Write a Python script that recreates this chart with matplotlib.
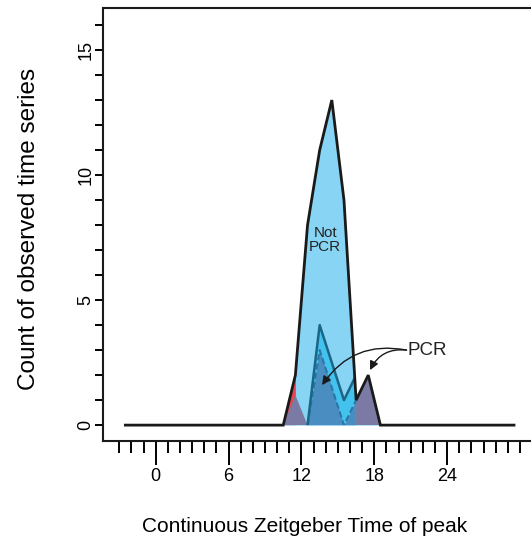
import numpy as np
import matplotlib
matplotlib.use("Agg")
import matplotlib.pyplot as plt

plt.rcParams['font.family'] = ['Liberation Sans', 'DejaVu Sans']

nan = np.nan

# bins of continuous Zeitgeber time (bin centres)
zt = np.arange(-2.5, 30.0, 1.0)

# counts per bin: Not PCR outline covers the whole range
not_pcr = [0] * 14 + [2, 8, 11, 13, 9, 1, 2] + [0] * 12
# overlay layers (nan = not drawn in that bin)
red_part = [nan] * 13 + [0, 2] + [nan] * 18
pcr_solid = [nan] * 15 + [0, 4, 2.5, 1, 2] + [nan] * 13
pcr_dashed = [nan] * 15 + [0, 3, 1.5, 0, 1] + [nan] * 13
purple_part = [nan] * 13 + [0, 1.2, 0] + [nan] * 3 + [1, 2, 0] + [nan] * 11

light_blue = '#87D4F5'
cyan = '#44C2EE'
steel = '#4A8DC0'
purple = '#7B7AA4'
red = '#E8464E'

fig = plt.figure(figsize=(5.31, 5.36), dpi=100)
ax = fig.add_axes([0.194, 0.177, 0.806, 0.808])

base = ax.fill_between(zt, not_pcr, color=light_blue, lw=0, zorder=1)
clip = base.get_paths()[0]

layers = [
    ax.fill_between(zt, red_part, color=red, lw=0, zorder=2),
    ax.fill_between(zt, pcr_solid, color=cyan, lw=0, zorder=3),
    ax.fill_between(zt, pcr_dashed, color=steel, lw=0, zorder=4),
    ax.fill_between(zt, purple_part, color=purple, lw=0, zorder=5),
]
l1, = ax.plot(zt, pcr_dashed, color='#2778A6', lw=1.5, ls=(0, (3, 1.5)), zorder=6)
l2, = ax.plot(zt, pcr_solid, color='#1B6585', lw=1.8, zorder=7)
for item in layers + [l1, l2]:
    item.set_clip_path(clip, ax.transData)

ax.plot(zt, not_pcr, color='#1a1a1a', lw=2, zorder=8, solid_joinstyle='miter')

# labels
ax.text(13.95, 7.4, 'Not\nPCR', ha='center', va='center', fontsize=11,
        color='#222222', linespacing=1.05, zorder=9)
ax.text(20.7, 3.0, 'PCR', ha='left', va='center', fontsize=13.5, color='#222222', zorder=9)
arrow_kw = dict(arrowstyle='-|>', color='#1a1a1a', lw=1.0, mutation_scale=13,
                shrinkA=0, shrinkB=0)
ax.annotate('', xy=(13.7, 1.6), xytext=(20.65, 3.0),
            arrowprops=dict(connectionstyle='arc3,rad=0.33', **arrow_kw), zorder=9)
ax.annotate('', xy=(17.65, 2.2), xytext=(20.65, 3.0),
            arrowprops=dict(connectionstyle='arc3,rad=0.35', **arrow_kw), zorder=9)

ax.set_xlim(-4.34, 30.9)
ax.set_ylim(-0.64, 16.68)

ax.set_xticks([0, 6, 12, 18, 24])
ax.set_xticks(np.arange(-3, 31, 1), minor=True)
ax.set_yticks([0, 5, 10, 15])
ax.set_yticks(np.arange(0, 17, 1), minor=True)
ax.tick_params(axis='x', which='major', length=17, width=1.4, pad=2, labelsize=13)
ax.tick_params(axis='x', which='minor', length=8.5, width=1.4)
ax.tick_params(axis='y', which='both', length=6, width=1.4, pad=0, labelsize=13)
for lab in ax.get_yticklabels():
    lab.set_rotation(90)
    lab.set_va('center')

for side in ['left', 'bottom', 'top']:
    ax.spines[side].set_linewidth(1.5)
    ax.spines[side].set_color('#1a1a1a')
ax.spines['right'].set_visible(False)

ax.set_xlabel('Continuous Zeitgeber Time of peak', fontsize=15)
ax.set_ylabel('Count of observed time series', fontsize=17.5)
ax.xaxis.set_label_coords(0.472, -0.175)
ax.yaxis.set_label_coords(-0.147, 0.49)

fig.savefig('out.png', dpi=100)
